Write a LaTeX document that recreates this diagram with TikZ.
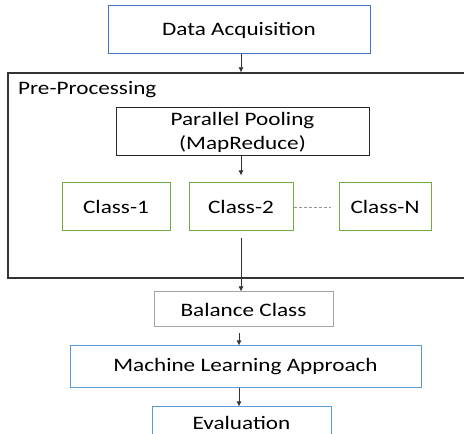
\documentclass[tikz,border=0pt]{standalone}
\usepackage{fontspec}
\setmainfont{Carlito}[FakeStretch=1.22]
\usetikzlibrary{arrows.meta}

\definecolor{acqblue}{RGB}{68,114,196}
\definecolor{lightblue}{RGB}{91,155,213}
\definecolor{classgreen}{RGB}{112,173,71}
\definecolor{balgray}{RGB}{165,165,165}

\begin{document}
\begin{tikzpicture}
	[x = 1pt, y = 1pt,
	box/.style={draw, line width=1pt, inner sep=0pt, align=center, font=\fontsize{19}{24}\selectfont},
	arrow/.style={-{Latex[length=5pt, width=5pt]}, line width=0.8pt, black!80}]
	
	% Page size
	\useasboundingbox (0, 0) rectangle (464, 434);
	\clip (0, 0) rectangle (464, 434);
	
	% Draw top box
	\node[box, acqblue, text=black, minimum width=262, minimum height=48] (acq) at (239, 404) {Data Acquisition};
	
	% Draw pre-processing frame
	\node[draw, line width=1.1pt, black!80, minimum width=467, minimum height=205, inner sep=0pt] (prep) at (241.5, 258.5) {};
	\node[anchor=west, inner sep=0pt, font=\fontsize{19}{24}\selectfont] (prepLabel) at (18, 344) {Pre-Processing};
	
	% Draw pooling box
	\node[box, black!85, text=black, minimum width=253, minimum height=48] (pool) at (242.5, 302) {Parallel Pooling\\(MapReduce)};
	
	% Draw class boxes
	\node[box, classgreen, text=black, minimum width=108, minimum height=48] (c1) at (116, 227) {Class-1};
	\node[box, classgreen, text=black, minimum width=104, minimum height=48] (c2) at (241, 227) {Class-2};
	\node[box, classgreen, text=black, minimum width=92, minimum height=48] (cN) at (385, 227) {Class-N};
	\draw[balgray!90!black, line width=0.8pt, dash pattern=on 3pt off 2pt, shorten >=8pt] (c2.east) -- (cN.west);
	
	% Draw lower boxes
	\node[box, balgray, text=black, minimum width=179, minimum height=35] (bal) at (243.5, 124.5) {Balance Class};
	\node[box, lightblue, text=black, minimum width=351, minimum height=42] (ml) at (245.5, 67) {Machine Learning Approach};
	\node[box, lightblue, text=black, minimum width=179, minimum height=32] (eval) at (241.5, 11) {Evaluation};
	
	% Draw arrows
	\draw[arrow] (241, 0 |- acq.south) -- (241, 0 |- prep.north);
	\draw[arrow, shorten >=7pt] (241, 0 |- pool.south) -- (241, 0 |- c2.north);
	\draw[arrow, shorten <=7pt] (c2.south) -- (c2.south |- bal.north);
	\draw[arrow, shorten <=6pt] (239, 0 |- bal.south) -- (239, 0 |- ml.north);
	\draw[arrow] (239, 0 |- ml.south) -- (239, 0 |- eval.north);
	
\end{tikzpicture}
\end{document}
